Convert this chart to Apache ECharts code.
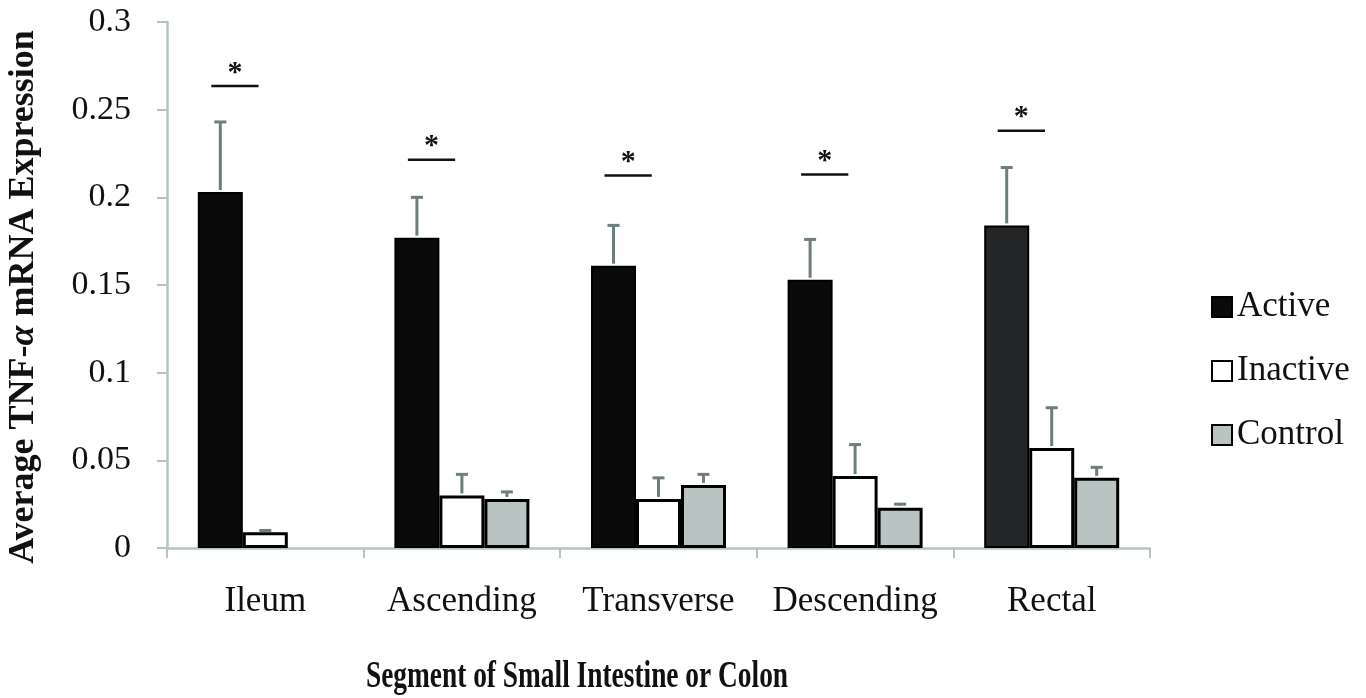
<!DOCTYPE html>
<html>
<head>
<meta charset="utf-8">
<script src="https://cdn.jsdelivr.net/npm/echarts@6/dist/echarts.min.js"></script>
<style>
  html, body { margin: 0; padding: 0; background: #fff; }
  #chart { width: 1366px; height: 698px; }
</style>
</head>
<body>
<div id="chart"></div>
<script>
// data
const categories = ["Ileum", "Ascending", "Transverse", "Descending", "Rectal"];
const activeValues = [0.203, 0.177, 0.161, 0.153, 0.184];
const activeErr = [0.040, 0.023, 0.023, 0.023, 0.033];
const inactiveValues = [0.009, 0.030, 0.028, 0.041, 0.057];
const inactiveErr = [0.001, 0.012, 0.012, 0.018, 0.023];
const controlValues = [null, 0.028, 0.036, 0.023, 0.040];
const controlErr = [null, 0.004, 0.006, 0.002, 0.006];
// height of the significance bar (*) above each group
const sigLevels = [0.2635, 0.2215, 0.2125, 0.213, 0.238];
const yTicks = { min: 0, max: 0.3, interval: 0.05 };

const SERIF = "'Liberation Serif', 'Times New Roman', serif";
const AXIS_COLOR = "#b5c3c3";
const ERR_COLOR = "#6e7d7d";
const BAR_W = 45;

const chart = echarts.init(document.getElementById("chart"), null, { renderer: "canvas" });

function errorSeries(name, values, errs, slot) {
  const data = [];
  values.forEach((v, i) => {
    if (v == null) return;
    data.push([i, v, v + errs[i]]);
  });
  return {
    name: name + " err",
    type: "custom",
    z: 5,
    silent: true,
    data: data,
    encode: { x: 0, y: [1, 2] },
    renderItem: (params, api) => {
      const base = api.coord([api.value(0), api.value(1)]);
      const top = api.coord([api.value(0), api.value(2)]);
      const x = base[0] + slot * BAR_W;
      const style = { stroke: ERR_COLOR, lineWidth: 3 };
      return {
        type: "group",
        children: [
          { type: "line", shape: { x1: x, y1: base[1] - 2, x2: x, y2: top[1] }, style: style },
          { type: "line", shape: { x1: x - 6, y1: top[1], x2: x + 6, y2: top[1] }, style: style },
        ],
      };
    },
  };
}

const option = {
  animation: false,
  backgroundColor: "#fff",
  grid: { left: 167, right: 216, top: 22, bottom: 150 },
  legend: {
    orient: "vertical",
    left: 1206,
    top: 284,
    itemWidth: 20,
    itemHeight: 20,
    itemGap: 28,
    icon: "rect",
    data: ["Active", "Inactive", "Control"],
    textStyle: { fontFamily: SERIF, fontSize: 35, color: "#111", lineHeight: 36, padding: [0, 0, 0, 0] },
  },
  xAxis: {
    type: "category",
    data: categories,
    axisLine: { lineStyle: { color: AXIS_COLOR, width: 2.5 } },
    axisTick: { show: true, length: 10, lineStyle: { color: AXIS_COLOR, width: 2 } },
    axisLabel: { interval: 0, fontFamily: SERIF, fontSize: 35, color: "#111", margin: 36 },
  },
  yAxis: {
    type: "value",
    min: yTicks.min,
    max: yTicks.max,
    interval: yTicks.interval,
    axisLine: { show: true, lineStyle: { color: AXIS_COLOR, width: 2.5 } },
    axisTick: { show: true, length: 10, lineStyle: { color: AXIS_COLOR, width: 2 } },
    splitLine: { show: false },
    axisLabel: { fontFamily: SERIF, fontSize: 34, color: "#111", margin: 36 },
  },
  series: [
    {
      name: "Active",
      type: "bar",
      barWidth: BAR_W,
      barGap: "0%",
      data: activeValues.map((v, i) =>
        i === 4 ? { value: v, itemStyle: { color: "#232526" } } : v
      ),
      itemStyle: { color: "#0a0a0a", borderColor: "#000", borderWidth: 2 },
    },
    {
      name: "Inactive",
      type: "bar",
      barWidth: BAR_W,
      barGap: "0%",
      data: inactiveValues,
      itemStyle: { color: "#fff", borderColor: "#000", borderWidth: 3 },
    },
    {
      name: "Control",
      type: "bar",
      barWidth: BAR_W,
      barGap: "0%",
      data: controlValues,
      itemStyle: { color: "#b9c3c1", borderColor: "#000", borderWidth: 3 },
    },
    errorSeries("Active", activeValues, activeErr, -1),
    errorSeries("Inactive", inactiveValues, inactiveErr, 0),
    errorSeries("Control", controlValues, controlErr, 1),
    {
      name: "sig",
      type: "custom",
      z: 6,
      silent: true,
      data: sigLevels.map((v, i) => [i, v]),
      renderItem: (params, api) => {
        const p = api.coord([api.value(0), api.value(1)]);
        const x1 = p[0] - 1.2 * BAR_W;
        const x2 = p[0] - 0.15 * BAR_W;
        return {
          type: "group",
          children: [
            { type: "line", shape: { x1: x1, y1: p[1], x2: x2, y2: p[1] }, style: { stroke: "#111", lineWidth: 2.5 } },
            {
              type: "text",
              x: (x1 + x2) / 2,
              y: p[1] + 2,
              style: {
                text: "*",
                fontFamily: SERIF,
                fontWeight: "bold",
                fontSize: 30,
                fill: "#111",
                align: "center",
                verticalAlign: "bottom",
              },
            },
          ],
        };
      },
    },
  ],
  graphic: [
    {
      type: "text",
      x: 24,
      y: 297,
      rotation: Math.PI / 2,
      style: {
        text: "Average TNF-{a|α} mRNA Expression",
        fontFamily: SERIF,
        fontWeight: "bold",
        fontSize: 36,
        fill: "#111",
        align: "center",
        verticalAlign: "middle",
        rich: {
          a: { fontFamily: SERIF, fontWeight: "bold", fontStyle: "italic", fontSize: 36, fill: "#111" },
        },
      },
    },
    {
      type: "text",
      x: 577,
      y: 677,
      scaleX: 0.74,
      style: {
        text: "Segment of Small Intestine or Colon",
        fontFamily: SERIF,
        fontWeight: "bold",
        fontSize: 37,
        fill: "#111",
        align: "center",
        verticalAlign: "middle",
      },
    },
  ],
};

chart.setOption(option);
</script>
</body>
</html>
